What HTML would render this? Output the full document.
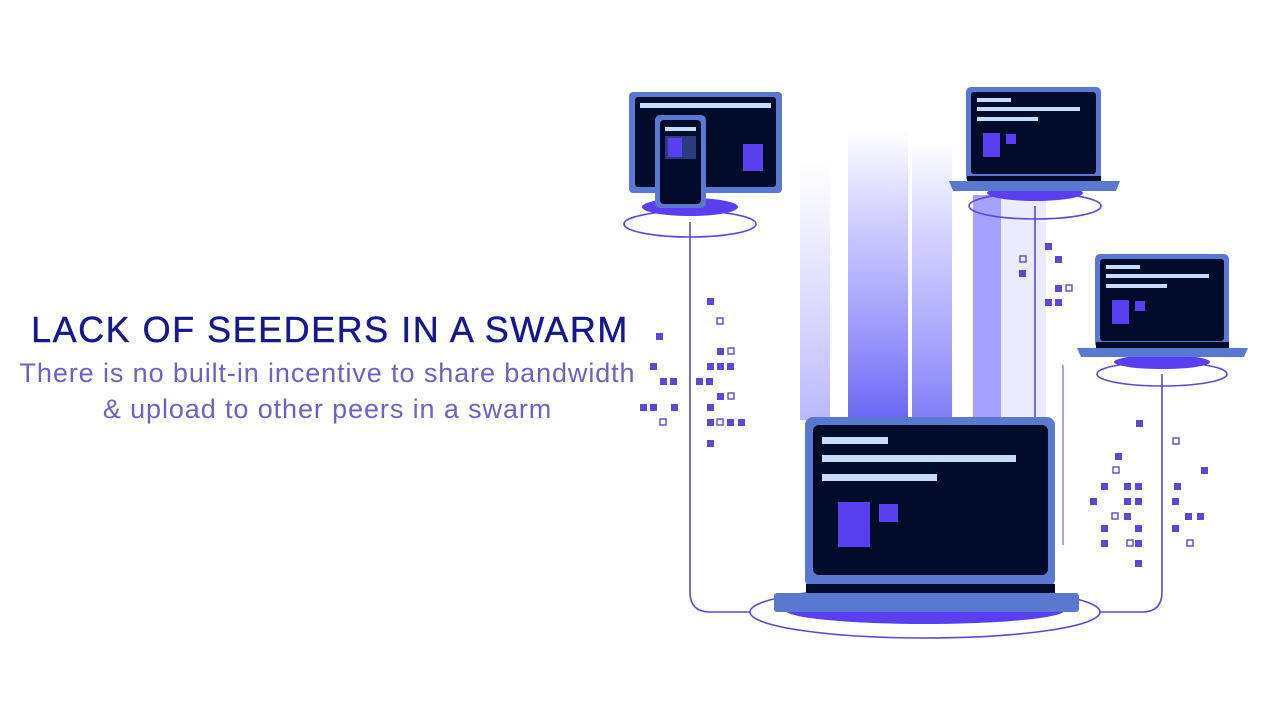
<!DOCTYPE html>
<html><head><meta charset="utf-8"><style>
html,body{margin:0;padding:0;background:#fff;}
body{width:1280px;height:720px;overflow:hidden;position:relative;font-family:"Liberation Sans",sans-serif;}
.t{position:absolute;left:0;top:309px;width:660px;text-align:center;color:#15178f;font-size:36px;letter-spacing:1.5px;white-space:nowrap;-webkit-text-stroke:0.4px #15178f;}
.s{position:absolute;left:0;width:655px;text-align:center;color:#6a63c4;font-size:27px;letter-spacing:0.9px;white-space:nowrap;}
svg{position:absolute;left:0;top:0;}
</style></head><body>
<svg width="1280" height="720" viewBox="0 0 1280 720">
<defs>
<linearGradient id="bm" x1="0" y1="0" x2="0" y2="1">
<stop offset="0" stop-color="#8a86ff" stop-opacity="0"/>
<stop offset="0.35" stop-color="#8a86ff" stop-opacity="0.45"/>
<stop offset="1" stop-color="#6a66f5" stop-opacity="1"/>
</linearGradient>
<linearGradient id="bl" x1="0" y1="0" x2="0" y2="1">
<stop offset="0" stop-color="#b8b5ff" stop-opacity="0"/>
<stop offset="1" stop-color="#a9a6ff" stop-opacity="0.8"/>
</linearGradient>
</defs>
<rect x="800" y="160" width="30" height="260" fill="url(#bl)"/>
<rect x="848" y="130" width="60" height="290" fill="url(#bm)"/>
<rect x="912" y="140" width="40" height="280" fill="url(#bm)" opacity="0.85"/>
<rect x="973" y="195" width="28" height="222" fill="#8d89ff" opacity="0.8"/>
<rect x="1001" y="195" width="45" height="222" fill="#e6e6ff" opacity="0.8"/>
<g fill="none" stroke="#5a48d8" stroke-width="1.6">
<path d="M690 222 V592 Q690 612 710 612 H770"/>
<path d="M1162 374 V592 Q1162 612 1142 612 H1090"/>
<line x1="1035" y1="206" x2="1035" y2="417"/>
<line x1="1063" y1="365" x2="1063" y2="545" stroke-width="1"/>
</g>
<ellipse cx="925" cy="612" rx="175" ry="26" fill="#fff" stroke="#5a48d8" stroke-width="1.6"/>
<ellipse cx="925" cy="610" rx="140" ry="14" fill="#5a3ff0"/>
<rect x="805" y="417" width="250" height="170" rx="8" fill="#5b78d0"/>
<rect x="813" y="425" width="235" height="150" rx="6" fill="#020c2a"/>
<rect x="822" y="437" width="66" height="7" fill="#c8dcf5"/>
<rect x="822" y="455" width="194" height="7" fill="#c8dcf5"/>
<rect x="822" y="474" width="115" height="7" fill="#c8dcf5"/>
<rect x="838" y="502" width="32" height="45" fill="#5a3ff0"/>
<rect x="879" y="504" width="19" height="18" fill="#5a3ff0"/>
<rect x="806" y="584" width="249" height="10" fill="#020c2a"/>
<rect x="774" y="593" width="305" height="19" rx="3" fill="#5b78d0"/>
<ellipse cx="690" cy="224" rx="66" ry="13" fill="none" stroke="#5a48d8" stroke-width="1.6"/>
<ellipse cx="690" cy="207" rx="48" ry="9" fill="#5a3ff0"/>
<rect x="629" y="92" width="153" height="101" rx="4" fill="#5b78d0"/>
<rect x="635" y="97" width="141" height="90" rx="3" fill="#020c2a"/>
<rect x="640" y="103" width="131" height="5" fill="#c8dcf5"/>
<rect x="743" y="144" width="20" height="27" fill="#5a3ff0"/>
<rect x="655" y="115" width="51" height="93" rx="5" fill="#5b78d0"/>
<rect x="660" y="120" width="41" height="84" rx="4" fill="#020c2a"/>
<rect x="665" y="127" width="31" height="4" fill="#c8dcf5"/>
<rect x="665" y="136" width="31" height="23" fill="#2a3b80"/>
<rect x="668" y="138" width="14" height="19" fill="#5a3ff0"/>
<ellipse cx="1035" cy="206" rx="66" ry="13" fill="none" stroke="#5a48d8" stroke-width="1.6"/>
<ellipse cx="1035" cy="193" rx="48" ry="8" fill="#5a3ff0"/>
<rect x="966" y="87" width="135" height="95" rx="5" fill="#5b78d0"/>
<rect x="971" y="92" width="125" height="82" rx="3" fill="#020c2a"/>
<rect x="977" y="98" width="34" height="4" fill="#c8dcf5"/>
<rect x="977" y="107" width="103" height="4" fill="#c8dcf5"/>
<rect x="977" y="117" width="61" height="4" fill="#c8dcf5"/>
<rect x="983" y="133" width="17" height="24" fill="#5a3ff0"/>
<rect x="1006" y="134" width="10" height="10" fill="#5a3ff0"/>
<rect x="967" y="176" width="134" height="6" fill="#020c2a"/>
<path d="M949 181 H1120 L1116 191 H953 Z" fill="#5b78d0"/>
<ellipse cx="1162" cy="374" rx="65" ry="12" fill="none" stroke="#5a48d8" stroke-width="1.6"/>
<ellipse cx="1162" cy="362" rx="48" ry="7" fill="#5a3ff0"/>
<rect x="1095" y="254" width="134" height="94" rx="5" fill="#5b78d0"/>
<rect x="1100" y="259" width="124" height="82" rx="3" fill="#020c2a"/>
<rect x="1106" y="265" width="34" height="4" fill="#c8dcf5"/>
<rect x="1106" y="274" width="103" height="4" fill="#c8dcf5"/>
<rect x="1106" y="284" width="61" height="4" fill="#c8dcf5"/>
<rect x="1112" y="300" width="17" height="24" fill="#5a3ff0"/>
<rect x="1135" y="301" width="10" height="10" fill="#5a3ff0"/>
<rect x="1096" y="342" width="133" height="6" fill="#020c2a"/>
<path d="M1077 348 H1248 L1244 357 H1081 Z" fill="#5b78d0"/>
<g fill="#5a48d8">
<rect x="707" y="298" width="7" height="7"/><rect x="656" y="333" width="7" height="7"/>
<rect x="717" y="348" width="7" height="7"/><rect x="650" y="363" width="7" height="7"/>
<rect x="707" y="363" width="7" height="7"/><rect x="717" y="363" width="7" height="7"/><rect x="727" y="363" width="7" height="7"/>
<rect x="660" y="378" width="7" height="7"/><rect x="670" y="378" width="7" height="7"/>
<rect x="696" y="378" width="7" height="7"/><rect x="706" y="378" width="7" height="7"/>
<rect x="717" y="393" width="7" height="7"/>
<rect x="640" y="404" width="7" height="7"/><rect x="650" y="404" width="7" height="7"/><rect x="671" y="404" width="7" height="7"/><rect x="707" y="404" width="7" height="7"/>
<rect x="707" y="419" width="7" height="7"/><rect x="727" y="419" width="7" height="7"/><rect x="738" y="419" width="7" height="7"/>
<rect x="707" y="440" width="7" height="7"/>
<rect x="1045" y="243" width="7" height="7"/><rect x="1055" y="256" width="7" height="7"/><rect x="1019" y="270" width="7" height="7"/>
<rect x="1055" y="285" width="7" height="7"/><rect x="1045" y="299" width="7" height="7"/><rect x="1055" y="299" width="7" height="7"/>
<rect x="1136" y="420" width="7" height="7"/><rect x="1115" y="453" width="7" height="7"/><rect x="1201" y="467" width="7" height="7"/>
<rect x="1101" y="483" width="7" height="7"/><rect x="1124" y="483" width="7" height="7"/><rect x="1135" y="483" width="7" height="7"/><rect x="1174" y="483" width="7" height="7"/>
<rect x="1090" y="498" width="7" height="7"/><rect x="1124" y="498" width="7" height="7"/><rect x="1135" y="498" width="7" height="7"/><rect x="1172" y="498" width="7" height="7"/>
<rect x="1124" y="513" width="7" height="7"/><rect x="1185" y="513" width="7" height="7"/><rect x="1197" y="513" width="7" height="7"/>
<rect x="1101" y="525" width="7" height="7"/><rect x="1135" y="525" width="7" height="7"/><rect x="1172" y="525" width="7" height="7"/>
<rect x="1101" y="540" width="7" height="7"/><rect x="1135" y="540" width="7" height="7"/><rect x="1135" y="560" width="7" height="7"/>
</g>
<g fill="none" stroke="#5a48d8" stroke-width="1.4">
<rect x="717" y="318" width="6" height="6"/><rect x="728" y="348" width="6" height="6"/><rect x="728" y="393" width="6" height="6"/>
<rect x="717" y="419" width="6" height="6"/><rect x="660" y="419" width="6" height="6"/>
<rect x="1020" y="256" width="6" height="6"/><rect x="1066" y="285" width="6" height="6"/>
<rect x="1173" y="438" width="6" height="6"/><rect x="1113" y="467" width="6" height="6"/><rect x="1112" y="513" width="6" height="6"/>
<rect x="1127" y="540" width="6" height="6"/><rect x="1187" y="540" width="6" height="6"/>
</g>
</svg>
<div class="t">LACK OF SEEDERS IN A SWARM</div>
<div class="s" style="top:358px">There is no built-in incentive to share bandwidth</div>
<div class="s" style="top:394px">&amp; upload to other peers in a swarm</div>
</body></html>
